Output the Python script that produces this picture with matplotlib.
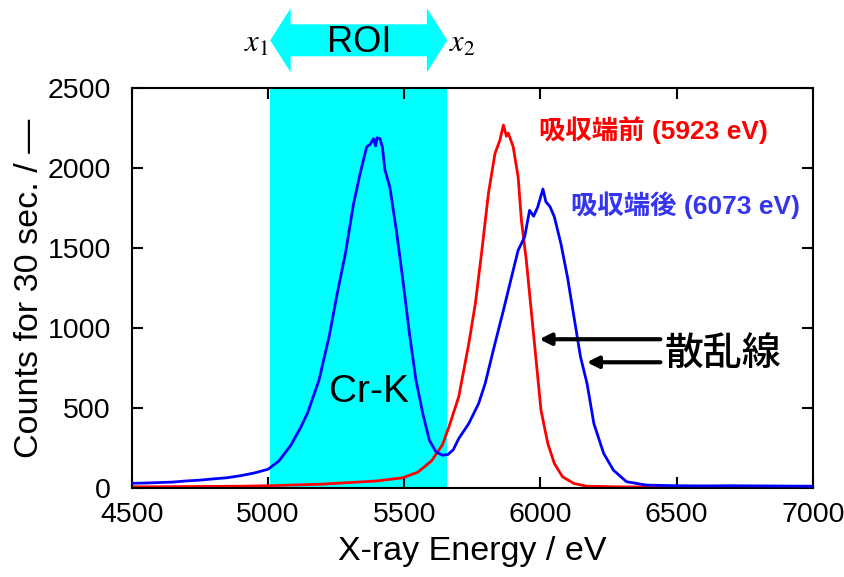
import numpy as np
import matplotlib
matplotlib.use('Agg')
import matplotlib.pyplot as plt
from matplotlib.patches import Polygon
from matplotlib.transforms import blended_transform_factory

plt.rcParams['font.family'] = ['Liberation Sans', 'Noto Sans CJK JP']
plt.rcParams['mathtext.fontset'] = 'stix'

# spectrum after the absorption edge (6073 eV): Cr-K + scatter
blue_e = [4500, 4550, 4600, 4650, 4700, 4750, 4800, 4850, 4900, 4950, 5000, 5040,
          5084, 5120, 5145, 5187, 5224, 5254, 5284, 5314, 5338, 5362, 5375, 5387,
          5395, 5400, 5411, 5420, 5429, 5447, 5471, 5495, 5519, 5543, 5568, 5592,
          5616, 5640, 5660, 5680, 5700, 5737, 5773, 5797, 5833, 5864, 5894, 5918,
          5942, 5960, 5975, 5990, 6009, 6020, 6035, 6051, 6075, 6099, 6123, 6147,
          6171, 6196, 6232, 6268, 6316, 6389, 6500, 6600, 6700, 6800, 6900, 7000]
blue_c = [30, 32, 35, 38, 45, 50, 58, 65, 78, 95, 118, 170,
          269, 380, 469, 675, 946, 1217, 1467, 1779, 1967, 2133, 2150, 2185,
          2140, 2190, 2185, 2130, 1990, 1883, 1612, 1300, 967, 675, 467, 300,
          227, 206, 210, 240, 310, 404, 529, 654, 904, 1112, 1321, 1487,
          1571, 1737, 1700, 1758, 1870, 1790, 1760, 1696, 1529, 1321, 1071, 821,
          654, 404, 217, 112, 40, 19, 15, 14, 15, 14, 13, 12]

# spectrum before the absorption edge (5923 eV): scatter only
red_e = [4500, 4700, 4900, 5000, 5100, 5200, 5300, 5400, 5495, 5550, 5600, 5640,
         5664, 5700, 5737, 5761, 5785, 5809, 5833, 5851, 5864, 5875, 5882, 5900,
         5918, 5930, 5948, 5966, 5984, 6002, 6027, 6051, 6081, 6123, 6170, 6300, 7000]
red_c = [8, 10, 12, 15, 20, 25, 35, 45, 65, 100, 170, 270,
         383, 571, 904, 1154, 1487, 1842, 2092, 2175, 2270, 2200, 2220, 2133,
         1946, 1675, 1425, 1112, 800, 487, 279, 154, 71, 29, 12, 8, 6]

roi_lo, roi_hi = 5008, 5658

fig = plt.figure(figsize=(8.45, 5.77), dpi=100)
ax = fig.add_axes([0.156, 0.154, 0.806, 0.693])

ax.axvspan(roi_lo, roi_hi, color='#00ffff', zorder=0, lw=0)
ax.plot(red_e, red_c, color='#ff0000', lw=2.0, zorder=2)
ax.plot(blue_e, blue_c, color='#0000ff', lw=2.0, zorder=3)

ax.set_xlim(4500, 7000)
ax.set_ylim(0, 2500)
ax.set_xticks([4500, 5000, 5500, 6000, 6500, 7000])
ax.set_yticks([0, 500, 1000, 1500, 2000, 2500])
ax.tick_params(direction='in', top=True, right=True, length=8, width=1.5,
               labelsize=20.5)
ax.tick_params(axis='x', pad=10)
ax.tick_params(axis='y', pad=15)
for s in ax.spines.values():
    s.set_linewidth(1.5)

ax.set_xlabel('X-ray Energy / eV', fontsize=24.5)
ax.set_ylabel('Counts for 30 sec. / \u2014', fontsize=24.5)
ax.xaxis.set_label_coords(0.5, -0.12)
ax.yaxis.set_label_coords(-0.128, 0.5)

# ROI double arrow above the axes
tr = blended_transform_factory(ax.transData, ax.transAxes)
head = 75
pts = [(roi_lo, 1.12), (roi_lo + head, 1.20), (roi_lo + head, 1.16),
       (roi_hi - head, 1.16), (roi_hi - head, 1.20), (roi_hi, 1.12),
       (roi_hi - head, 1.04), (roi_hi - head, 1.08), (roi_lo + head, 1.08),
       (roi_lo + head, 1.04)]
ax.add_patch(Polygon(pts, closed=True, transform=tr, color='#00ffff',
                     clip_on=False, lw=0))
ax.text((roi_lo + roi_hi) / 2, 1.115, 'ROI', transform=tr, fontsize=26,
        ha='center', va='center')
ax.text(roi_lo - 5, 1.11, '$x_1$', transform=tr, fontsize=22, ha='right', va='center')
ax.text(roi_hi + 5, 1.11, '$x_2$', transform=tr, fontsize=22, ha='left', va='center')

ax.text(5370, 600, 'Cr-K', fontsize=28, ha='center', va='center')
ax.text(5996, 2237, '吸収端前 (5923 eV)', color='#ff0000', fontsize=19,
        fontweight='bold', ha='left', va='center')
ax.text(6112, 1769, '吸収端後 (6073 eV)', color='#3535f0', fontsize=19,
        fontweight='bold', ha='left', va='center')
ax.text(6455, 825, '散乱線', fontsize=28, fontweight='medium', ha='left', va='center')

arrow = dict(arrowstyle='-|>', lw=3, color='black', mutation_scale=17,
             shrinkA=0, shrinkB=0)
ax.annotate('', xy=(5996, 931), xytext=(6440, 931), arrowprops=arrow)
ax.annotate('', xy=(6170, 787), xytext=(6440, 787), arrowprops=arrow)

fig.savefig('out.png', dpi=100)
